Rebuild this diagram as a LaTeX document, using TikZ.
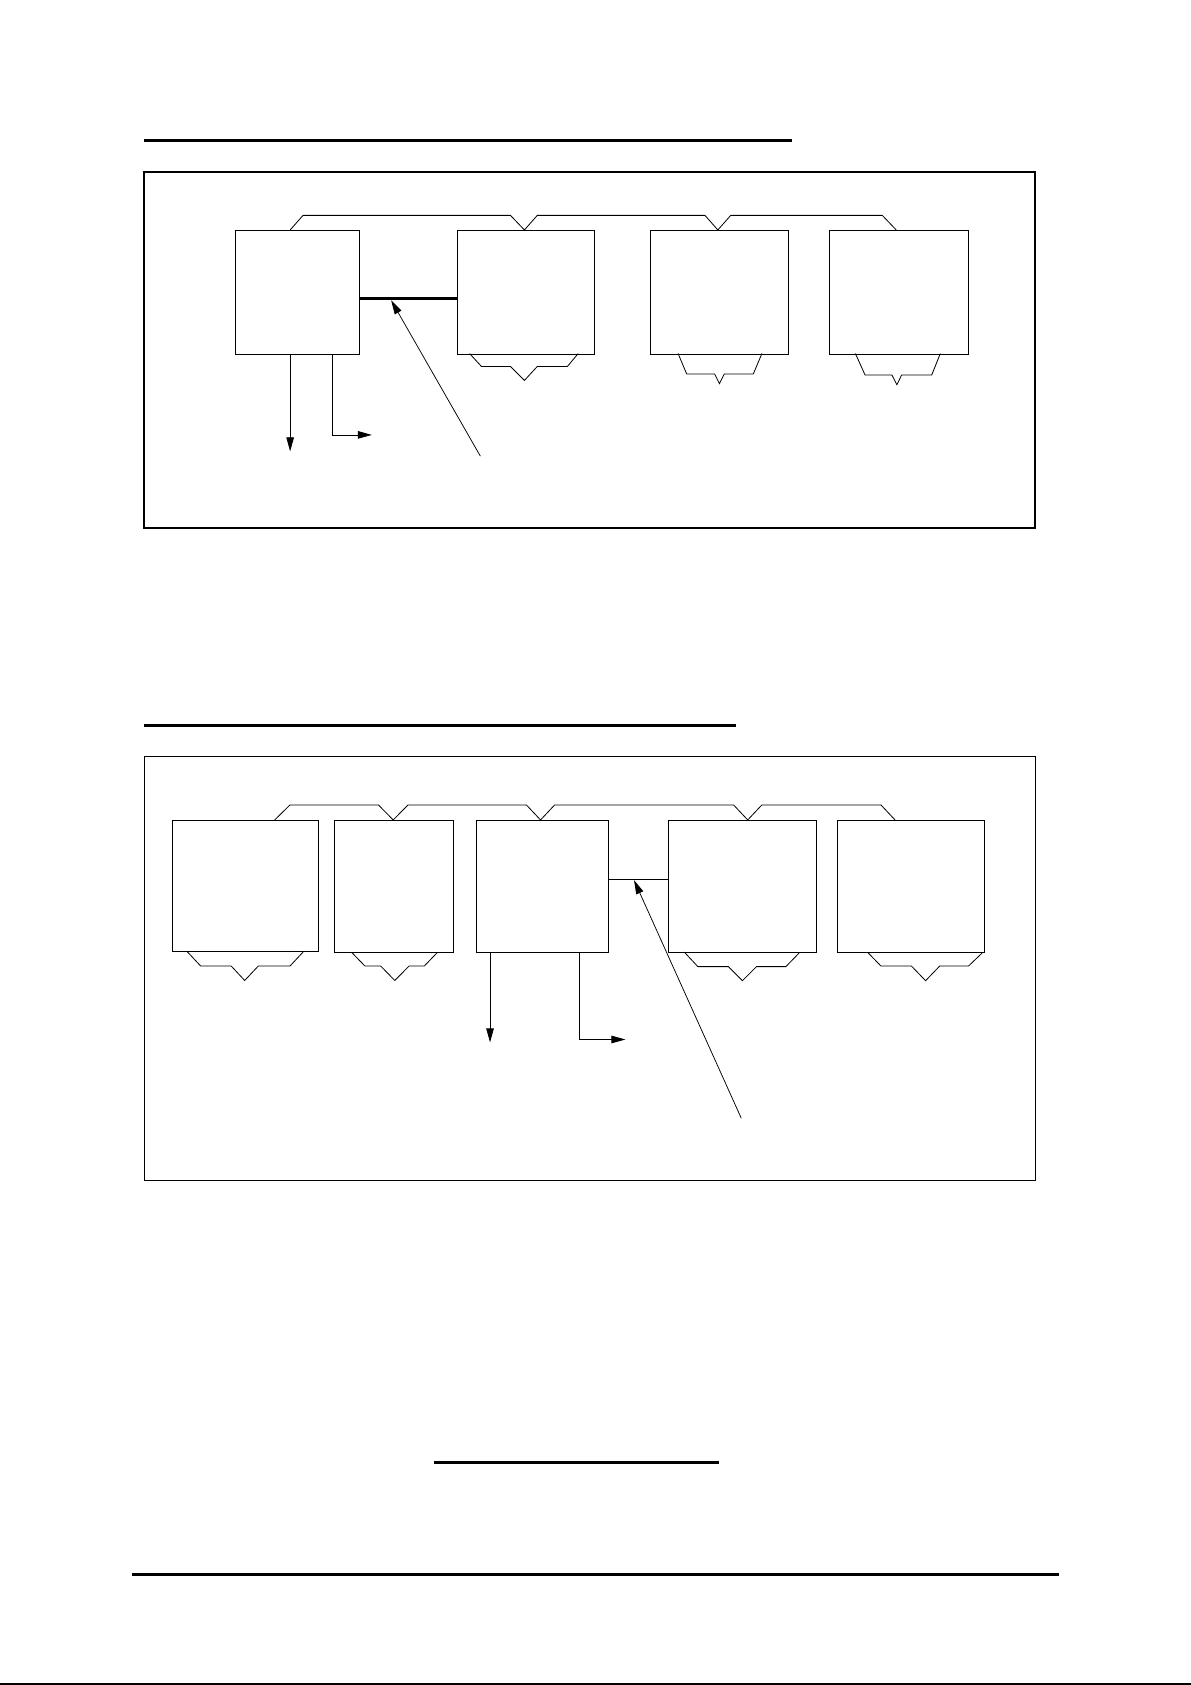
\documentclass[tikz,border=0pt]{standalone}
\usetikzlibrary{arrows.meta}
\begin{document}
\begin{tikzpicture}[x=1pt,y=-1pt,
  blk/.style={draw,line width=0.9pt,inner sep=0pt,anchor=north west},
  brc/.style={draw,line width=0.75pt,line join=miter},
  rule/.style={line width=2.8pt},
  arr/.style={line width=0.7pt,-{Triangle[length=13pt,width=7pt]}},
  lead/.style={line width=0.7pt,-{Triangle[length=13pt,width=7pt]}}]
\useasboundingbox (0,0) rectangle (1108,1568);
\fill[white] (0,0) rectangle (1108,1568);

% ---------- rules ----------
\draw[rule] (134,131) -- (737,131);
\draw[rule] (134,675.5) -- (685,675.5);
\draw[rule] (404,1361) -- (669,1361);
\draw[rule] (123,1465) -- (985,1465);
\draw[line width=2pt] (0,1567) -- (1108,1567);

% ---------- diagram 1 ----------
\draw[line width=1.6pt] (134,160) rectangle (963,491);

\node[blk,minimum width=115pt,minimum height=115pt] (A) at (219,214) {};
\node[blk,minimum width=128pt,minimum height=115pt] (B) at (425,214) {};
\node[blk,minimum width=128pt,minimum height=115pt] (C) at (605,214) {};
\node[blk,minimum width=130pt,minimum height=115pt] (D) at (771,214) {};

% top brace
\draw[brc] (270,214) -- (282,200.4) -- (475,200.4) -- (488,214) -- (500,200.4)
  -- (656,200.4) -- (668,214) -- (680,200.4) -- (821,200.4) -- (834,214);
% bottom braces
\draw[brc] (437,329) -- (448,341) -- (475,341) -- (488,354) -- (500,341) -- (528,341) -- (538,329);
\draw[brc] (631,329) -- (639,348) -- (665,348) -- (669.5,357) -- (674,348) -- (701,348) -- (709,329);
\draw[brc] (796,329) -- (805,349) -- (830,349) -- (834.6,358) -- (839,349) -- (867,349) -- (875,329);

% link A-B
\draw[line width=2.8pt] ([yshift=-5.5pt]A.east) -- ([yshift=-5.5pt]B.west);
\coordinate (t1) at (447,424.5);
\coordinate (h1) at (364,279.5);
\draw[lead] (t1) -- (h1);

% outputs of A
\coordinate (a1) at (270,329);
\coordinate (a1e) at (270,420);
\draw[arr] (a1) -- (a1e);
\coordinate (a2) at (309,329);
\coordinate (a2e) at (346,404.7);
\draw[arr] (a2) |- (a2e);

% ---------- diagram 2 ----------
\draw[line width=1.2pt] (134.5,704) rectangle (963.5,1098.5);

\node[blk,minimum width=136pt,minimum height=122pt] (P) at (160,763) {};
\node[blk,minimum width=110.6pt,minimum height=123pt] (Q) at (311,763) {};
\node[blk,minimum width=123pt,minimum height=123pt] (R) at (443,763) {};
\node[blk,minimum width=137.6pt,minimum height=123pt] (S) at (621.5,763) {};
\node[blk,minimum width=136.5pt,minimum height=123pt] (T) at (779,763) {};

% top brace
\draw[brc] (255.6,763) -- (269.8,749.1) -- (352.2,749.1) -- (365.9,763) -- (379.6,749.1)
  -- (489.9,749.1) -- (503,763) -- (516.1,749.1) -- (682.7,749.1) -- (695.8,763)
  -- (708.9,749.1) -- (819.8,749.1) -- (832.9,763);
% bottom braces
\draw[brc] (173.7,885) -- (186.8,899) -- (215.2,899) -- (227.7,912.4) -- (240.3,899) -- (269.8,899) -- (282.9,885);
\draw[brc] (327,886) -- (339.6,899) -- (354.3,899) -- (367.4,912.4) -- (380.6,899) -- (394.8,899) -- (407.3,886);
\draw[brc] (636.8,886) -- (649.4,899.5) -- (677.8,899.5) -- (690.9,912.6) -- (704,899.5) -- (731.3,899.5) -- (744.4,886);
\draw[brc] (807.2,886) -- (819.8,899) -- (848.2,899) -- (861.3,912.6) -- (874.4,899) -- (901.2,899) -- (914.8,886);

% link R-S
\draw[line width=0.9pt] ([yshift=7pt]R.east) -- ([yshift=7pt]S.west);
\coordinate (t2) at (689.8,1040.6);
\coordinate (h2) at (590,819);
\draw[lead] (t2) -- (h2);

% outputs of R
\coordinate (r1) at (456,886);
\coordinate (r1e) at (456,970);
\draw[arr] (r1) -- (r1e);
\coordinate (r2) at (539.6,886);
\coordinate (r2e) at (582,967.3);
\draw[arr] (r2) |- (r2e);
\end{tikzpicture}
\end{document}
